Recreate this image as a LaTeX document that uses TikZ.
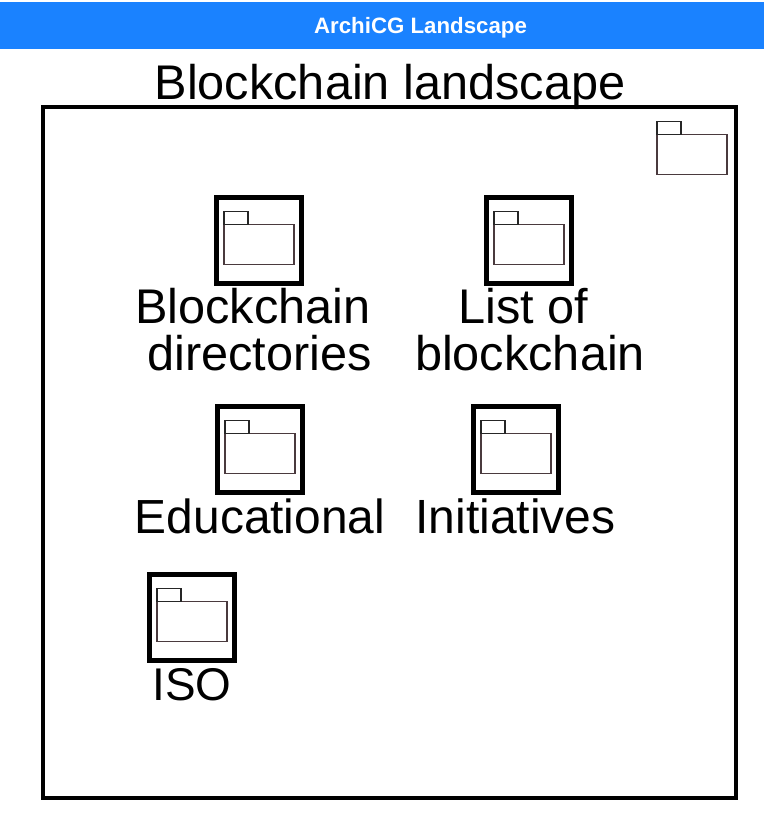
\documentclass[tikz,border=0pt]{standalone}
\usepackage{fontspec}
\setmainfont{Liberation Sans}
\definecolor{barblue}{HTML}{1A82FF}
\definecolor{pkgline}{HTML}{4A3A3E}
\newcommand{\pkg}[3]{%
  \node[pkgbody] (#3b) at (#1+35,#2-2.5) {};
  \node[pkgtab] (#3t) at (#1+12,#2-29) {};
}
\tikzset{
  x=0.75pt,y=-0.75pt,
  pkgbody/.style={draw=pkgline,line width=0.8pt,minimum width=52.5pt,minimum height=30.6pt,inner sep=0pt,outer sep=0pt,anchor=center},
  pkgtab/.style={draw=black!85,line width=0.9pt,minimum width=18pt,minimum height=9.4pt,inner sep=0pt,outer sep=0pt,anchor=center},
  iconbox/.style={draw=black,line width=3.75pt,minimum width=64pt,minimum height=64pt,inner sep=0pt,outer sep=0pt,anchor=center},
  lab/.style={font=\fontsize{36.5pt}{35.25pt}\selectfont,align=center,inner sep=0pt,text=black,anchor=center}
}
\begin{document}
\begin{tikzpicture}
\useasboundingbox (0,0) rectangle (764,832);
\fill[white] (0,0) rectangle (764,832);
\node[fill=barblue,minimum width=573pt,minimum height=35.25pt,inner sep=0pt,outer sep=0pt] (bar) at (382,25.5) {};
\node[font=\bfseries\fontsize{16.7pt}{18pt}\selectfont,text=white,inner sep=0pt] (bart) at (420.5,28) {ArchiCG Landscape};
\node[draw=black,line width=3.4pt,minimum width=519.75pt,minimum height=518.25pt,inner sep=0pt,outer sep=0pt] (frame) at (389.5,452.5) {};
\node[font=\fontsize{36.5pt}{35.25pt}\selectfont,inner sep=0pt] (title) at (390,87) {Blockchain landscape};
\pkg{657}{157}{corner}
\node[iconbox] (i1) at (258.7,240.5) {};
\pkg{224}{247}{a}
\node[iconbox] (i2) at (528.7,240.5) {};
\pkg{494}{247}{b}
\node[iconbox] (i3) at (259.7,449.5) {};
\pkg{225}{456}{c}
\node[iconbox] (i4) at (515.7,449.5) {};
\pkg{481}{456}{d}
\node[iconbox] (i5) at (191.7,617.5) {};
\pkg{157}{624}{e}
\node[lab] (l1) at (259.5,330) {Blockchain\hspace*{10.1pt}\\directories};
\node[lab] (l2) at (530,330) {List of\hspace*{10.1pt}\\blockchain};
\node[lab,font=\fontsize{35.9pt}{35.25pt}\selectfont] (l3) at (260,516) {Educational};
\node[lab,font=\fontsize{36pt}{35.25pt}\selectfont] (l4) at (515.5,516) {Initiatives};
\node[lab,font=\fontsize{34.4pt}{35.25pt}\selectfont] (l5) at (192,685) {ISO};
\end{tikzpicture}
\end{document}
